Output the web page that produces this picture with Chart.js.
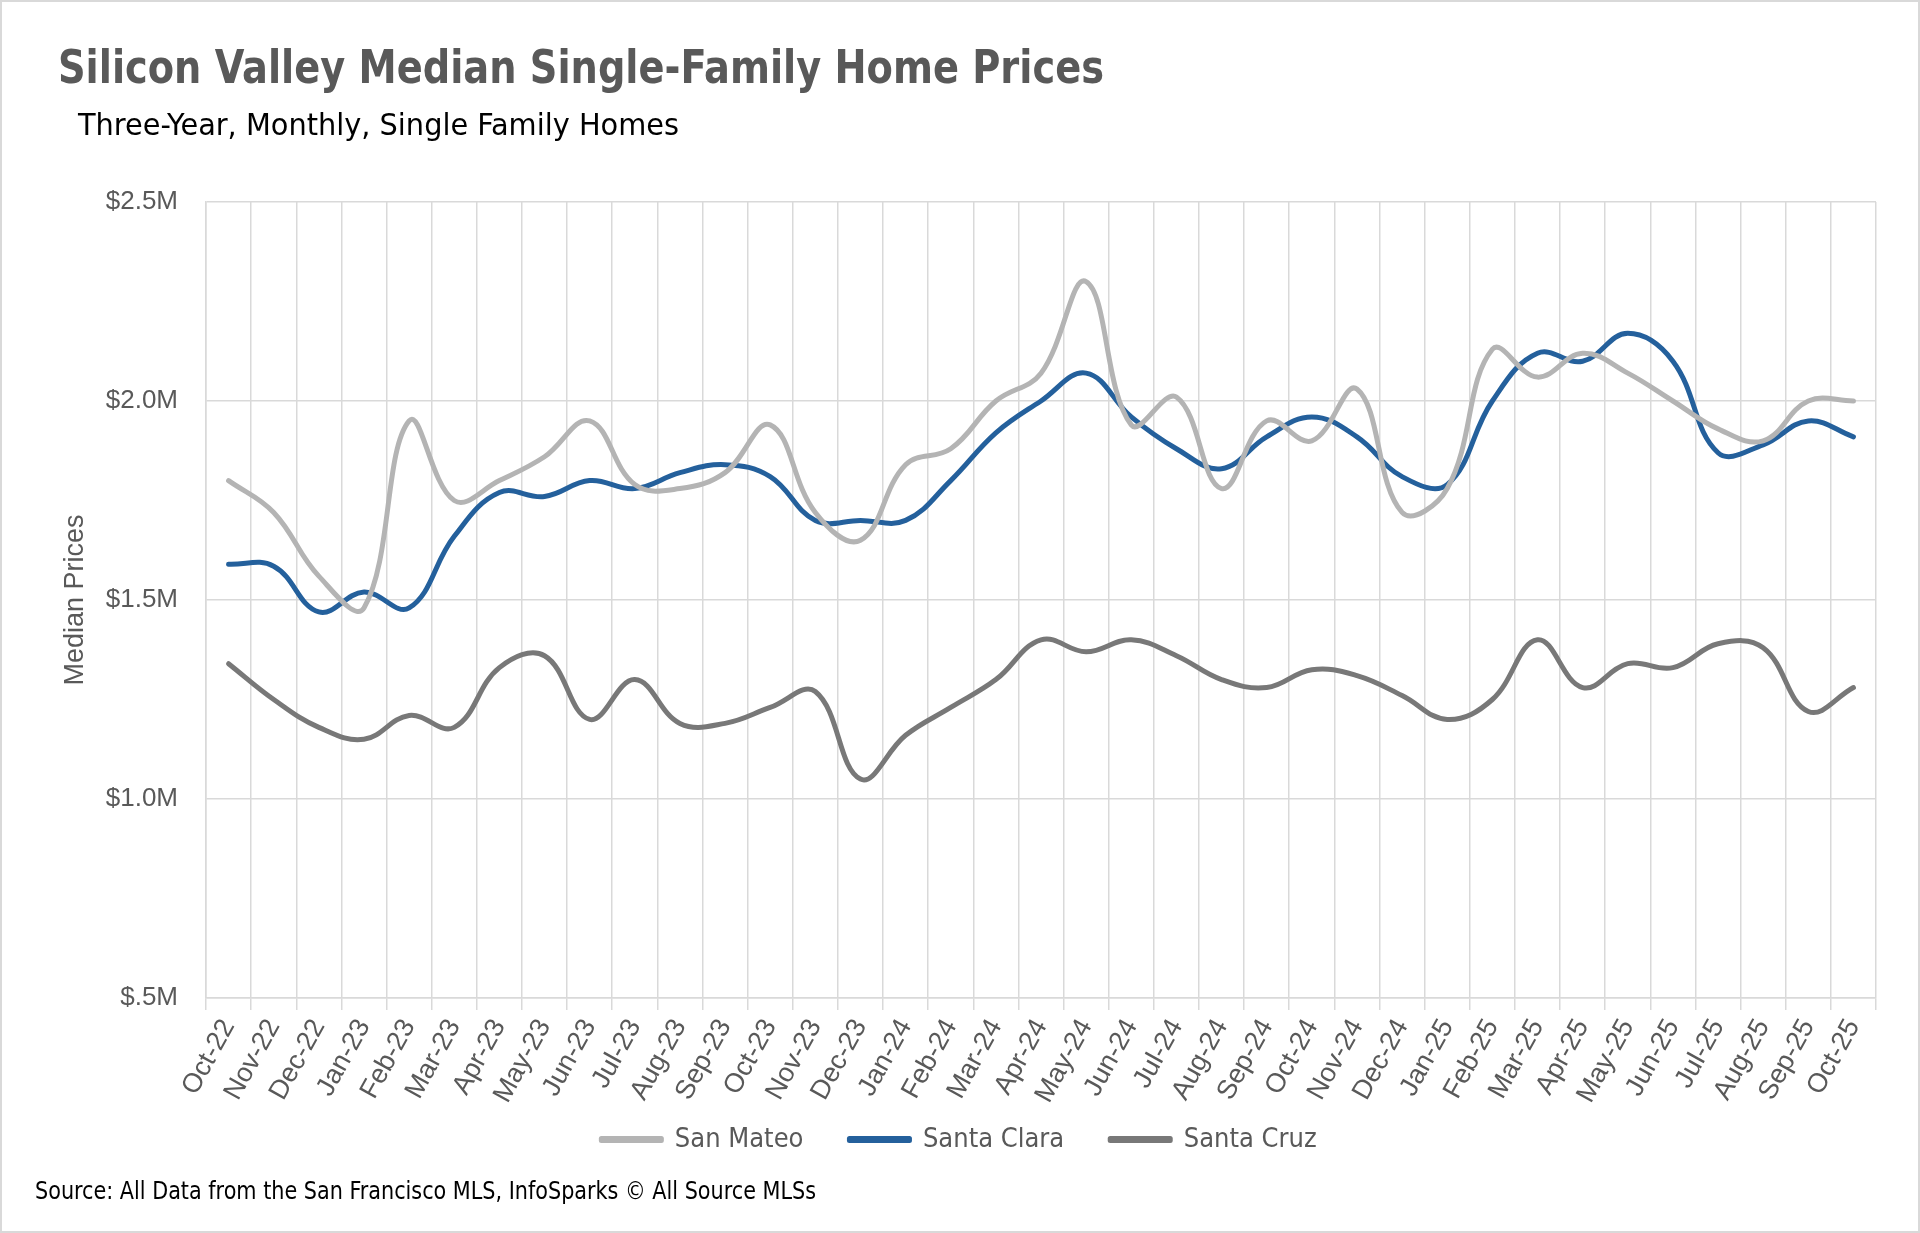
<!DOCTYPE html>
<html>
<head>
<meta charset="utf-8">
<script src="https://cdn.jsdelivr.net/npm/chart.js@4.4.0/dist/chart.umd.min.js"></script>
<style>
  html, body { margin: 0; padding: 0; background: #fff; }
  #wrap {
    position: relative;
    width: 1920px;
    height: 1233px;
    box-sizing: border-box;
    border: 2px solid #d9d9d9;
    overflow: hidden;
  }
  #chart { position: absolute; left: 0; top: 0; }
  .txt {
    position: absolute;
    white-space: nowrap;
    line-height: 1;
    transform-origin: left top;
    font-family: "Liberation Sans Narrow", "DejaVu Sans Condensed", Roboto, sans-serif;
  }
  #title { left: 56px; top: 42px; font-size: 46px; font-weight: bold; color: #595959; }
  #subtitle { left: 76px; top: 108px; font-size: 30px; color: #000; }
  #source { left: 33px; top: 1176px; font-size: 25px; color: #000; }
</style>
</head>
<body>
<div id="wrap">
  <canvas id="chart" width="1920" height="1233"></canvas>
  <div class="txt" id="title" data-w="1046">Silicon Valley Median Single-Family Home Prices</div>
  <div class="txt" id="subtitle" data-w="601">Three-Year, Monthly, Single Family Homes</div>
  <div class="txt" id="source" data-w="781">Source: All Data from the San Francisco MLS, InfoSparks © All Source MLSs</div>
</div>
<script>
// months, Oct-22 .. Oct-25
const months = [
  "Oct-22", "Nov-22", "Dec-22", "Jan-23", "Feb-23", "Mar-23", "Apr-23", "May-23",
  "Jun-23", "Jul-23", "Aug-23", "Sep-23", "Oct-23", "Nov-23", "Dec-23", "Jan-24",
  "Feb-24", "Mar-24", "Apr-24", "May-24", "Jun-24", "Jul-24", "Aug-24", "Sep-24",
  "Oct-24", "Nov-24", "Dec-24", "Jan-25", "Feb-25", "Mar-25", "Apr-25", "May-25",
  "Jun-25", "Jul-25", "Aug-25", "Sep-25", "Oct-25"
];

// median prices, millions of dollars
const sanMateo = [
  1.80, 1.72, 1.56, 1.48, 1.95, 1.75, 1.80, 1.86, 1.95, 1.79, 1.78, 1.82,
  1.94, 1.72, 1.65, 1.84, 1.88, 2.00, 2.07, 2.30, 1.94, 2.01, 1.78, 1.95,
  1.90, 2.03, 1.72, 1.78, 2.13, 2.06, 2.12, 2.07, 2.00, 1.93, 1.90, 2.00, 2.00
];
const santaClara = [
  1.59, 1.585, 1.47, 1.52, 1.48, 1.66, 1.77, 1.76, 1.80, 1.78, 1.82, 1.84,
  1.81, 1.70, 1.70, 1.70, 1.80, 1.92, 2.00, 2.07, 1.96, 1.88, 1.83, 1.91,
  1.96, 1.91, 1.81, 1.79, 2.00, 2.12, 2.10, 2.17, 2.10, 1.87, 1.89, 1.95, 1.91
];
const santaCruz = [
  1.34, 1.25, 1.18, 1.15, 1.21, 1.18, 1.33, 1.36, 1.20, 1.30, 1.19, 1.19,
  1.23, 1.27, 1.05, 1.16, 1.23, 1.30, 1.40, 1.37, 1.40, 1.36, 1.30, 1.28,
  1.325, 1.31, 1.26, 1.20, 1.25, 1.40, 1.28, 1.34, 1.33, 1.39, 1.38, 1.22, 1.28
];

const yTickLabels = ["$.5M", "$1.0M", "$1.5M", "$2.0M", "$2.5M"];

const axisGray = "#595959";
const gridGray = "#d9d9d9";

function line(label, values, color) {
  return {
    label: label,
    data: values,
    borderColor: color,
    backgroundColor: color,
    borderWidth: 5,
    borderCapStyle: "round",
    borderJoinStyle: "round",
    pointRadius: 0,
    pointHoverRadius: 0,
    tension: 0.4,
    fill: false,
  };
}

// pull the legend up so it sits just under the rotated month labels
const legendShift = {
  id: "legendShift",
  afterLayout: (chart) => {
    if (chart.legend) {
      chart.legend.top -= 36;
      chart.legend.bottom -= 36;
    }
  },
};

const data = {
  labels: months,
  datasets: [
    line("San Mateo", sanMateo, "#b4b4b4"),
    line("Santa Clara", santaClara, "#24609c"),
    line("Santa Cruz", santaCruz, "#787878"),
  ],
};

const config = {
  type: "line",
  data: data,
  options: {
    responsive: false,
    animation: false,
    layout: {
      padding: { left: 40, top: 200, right: 46, bottom: 36 },
    },
    plugins: {
      legend: {
        position: "bottom",
        labels: {
          boxWidth: 60,
          boxHeight: 2,
          padding: 46,
          color: axisGray,
          font: {
            family: '"Liberation Sans Narrow", "DejaVu Sans Condensed", Roboto, sans-serif',
            size: 27,
          },
        },
      },
      tooltip: { enabled: false },
    },
    scales: {
      x: {
        offset: true,
        afterFit: (scale) => { scale.height = 118; },
        grid: {
          offset: true,
          color: gridGray,
          lineWidth: 1.5,
          tickLength: 12,
        },
        border: { color: gridGray, width: 1.5 },
        ticks: {
          autoSkip: false,
          minRotation: 61,
          maxRotation: 61,
          padding: 4,
          color: axisGray,
          font: { family: '"Liberation Sans", Arimo, sans-serif', size: 27 },
        },
      },
      y: {
        min: 0.5,
        max: 2.5,
        afterFit: (scale) => { scale.width = 164; },
        grid: {
          color: gridGray,
          lineWidth: 1.5,
          drawTicks: false,
        },
        border: { color: gridGray, width: 1.5 },
        ticks: {
          stepSize: 0.5,
          padding: 28,
          color: axisGray,
          font: { family: '"Liberation Sans", Arimo, sans-serif', size: 26 },
          callback: (value, index) => yTickLabels[index],
        },
        title: {
          display: true,
          text: "Median Prices",
          color: axisGray,
          padding: { top: 17, bottom: 0 },
          font: { family: '"Liberation Sans", Arimo, sans-serif', size: 27 },
        },
      },
    },
  },
  plugins: [legendShift],
};

// squeeze the html texts to the widths they have in the picture
document.querySelectorAll(".txt").forEach((el) => {
  const target = parseFloat(el.dataset.w);
  const w = el.getBoundingClientRect().width;
  if (w > 0) el.style.transform = "scaleX(" + (target / w) + ")";
});

const canvas = document.getElementById("chart");
if (canvas) {
  new Chart(canvas.getContext("2d"), config);
} else {
  console.error("canvas not found");
}
</script>
</body>
</html>
